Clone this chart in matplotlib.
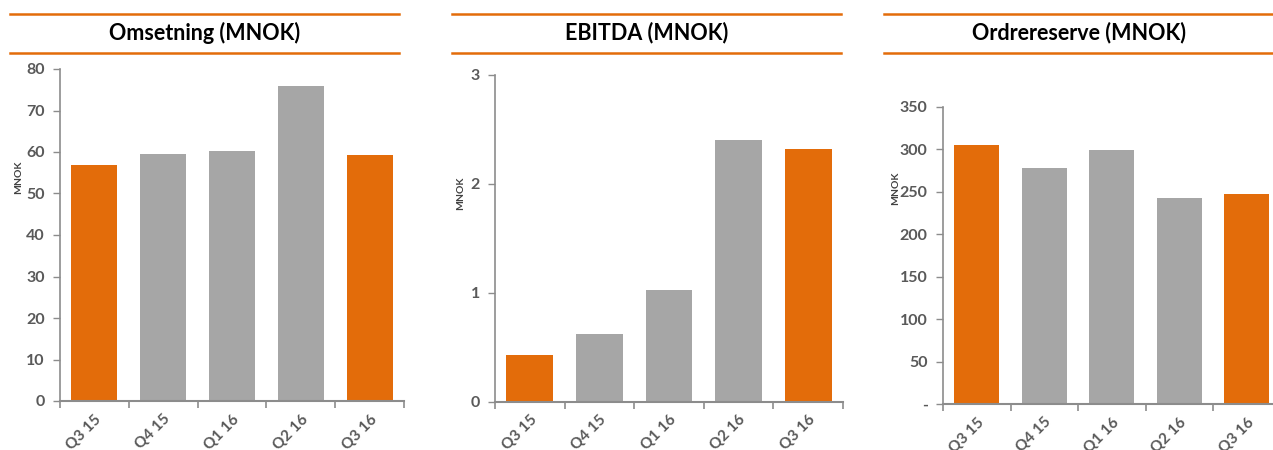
import matplotlib
matplotlib.use("Agg")
import matplotlib.pyplot as plt
import matplotlib.transforms as mtransforms
from matplotlib.lines import Line2D
import numpy as np

categories = ["Q3 15", "Q4 15", "Q1 16", "Q2 16", "Q3 16"]
omsetning = [56.9, 59.5, 60.2, 76.0, 59.3]
ebitda = [0.43, 0.62, 1.03, 2.40, 2.32]
ordrereserve = [304.5, 277.8, 299.4, 242.9, 246.8]

titles = ["Omsetning (MNOK)", "EBITDA (MNOK)", "Ordrereserve (MNOK)"]
ylabel = "MNOK"
yticks_list = [
    [0, 10, 20, 30, 40, 50, 60, 70, 80],
    [0, 1, 2, 3],
    [0, 50, 100, 150, 200, 250, 300, 350],
]
ytick_labels_list = [
    ["0", "10", "20", "30", "40", "50", "60", "70", "80"],
    ["0", "1", "2", "3"],
    ["-", "50", "100", "150", "200", "250", "300", "350"],
]
highlight = [True, False, False, False, True]

ORANGE = "#E36C0A"
GRAY = "#A6A6A6"
AXIS = "#8C8C8C"
TXT = "#595959"

W, H = 1273, 450
fig = plt.figure(figsize=(W / 100, H / 100), dpi=100)
plt.rcParams["font.family"] = ["Lato", "DejaVu Sans"]

# pixel geometry: (left, right, top, bottom) of axes; title line x-range; ylabel pos
panels = [
    dict(ax=(60, 404, 69, 401), line=(10, 399), ylab=(19, 177)),
    dict(ax=(495, 843, 75, 401.7), line=(452, 841), ylab=(461, 193)),
    dict(ax=(943, 1280.5, 106.7, 404), line=(884, 1273), ylab=(896, 188)),
]
series = [omsetning, ebitda, ordrereserve]
shift = mtransforms.ScaledTranslation(4 / 100, 0, fig.dpi_scale_trans)

for i, p in enumerate(panels):
    l, r, t, b = p["ax"]
    ax = fig.add_axes([l / W, 1 - b / H, (r - l) / W, (b - t) / H])
    x = np.arange(len(categories))
    colors = [ORANGE if h else GRAY for h in highlight]
    ax.bar(x, series[i], width=0.67, color=colors, zorder=2)
    ax.set_xlim(-0.5, len(categories) - 0.5)
    yt = yticks_list[i]
    ax.set_ylim(0, yt[-1])
    ax.set_yticks(yt)
    ax.set_yticklabels(ytick_labels_list[i], fontsize=11.5, fontweight="bold", color=TXT)
    ax.set_xticks(x)
    ax.set_xticklabels(categories, rotation=45, ha="right", rotation_mode="anchor",
                       fontsize=11, fontweight="bold", color=TXT)
    for lab in ax.get_xticklabels():
        lab.set_transform(lab.get_transform() + shift)
    ax.tick_params(axis="x", which="major", length=0, pad=8)
    ax.set_xticks(np.arange(-0.5, len(categories)), minor=True)
    ax.tick_params(axis="x", which="minor", length=5, color=AXIS, width=1.2, direction="out")
    ax.tick_params(axis="y", length=5, color=AXIS, width=1, direction="out", pad=6)
    for s in ["top", "right"]:
        ax.spines[s].set_visible(False)
    ax.spines["left"].set_color(AXIS)
    ax.spines["left"].set_linewidth(1.2)
    ax.spines["bottom"].set_color(AXIS)
    ax.spines["bottom"].set_linewidth(1.5)

    # y label
    lx, ly = p["ylab"]
    fig.text(lx / W, 1 - ly / H, ylabel, rotation=90,
             fontsize=7.5, fontweight="bold", color="#404040", ha="center", va="center")

    # title lines and title
    x0, x1 = p["line"]
    for yy in (14, 53):
        fig.add_artist(Line2D([x0 / W, x1 / W], [1 - yy / H, 1 - yy / H],
                              color=ORANGE, linewidth=1.8))
    fig.text(((x0 + x1) / 2) / W, 1 - 33 / H, titles[i], fontsize=15.5, fontweight="bold",
             color="black", ha="center", va="center")

fig.savefig("out.png", dpi=100)
